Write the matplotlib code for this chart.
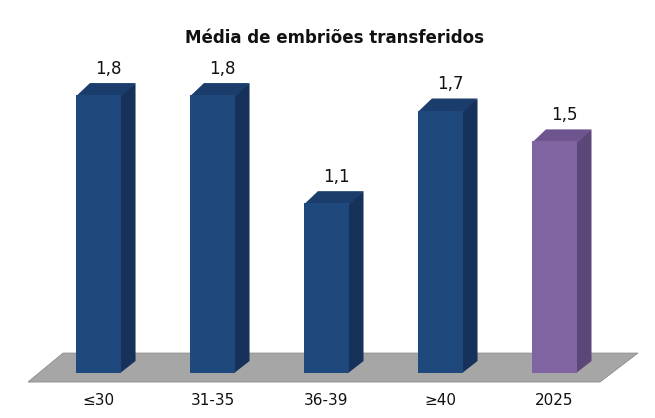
import matplotlib.pyplot as plt
from matplotlib.patches import Polygon

# data
categories = ['≤30', '31-35', '36-39', '≥40', '2025']
values = [1.8, 1.8, 1.1, 1.7, 1.5]
labels = ['1,8', '1,8', '1,1', '1,7', '1,5']
title = 'Média de embriões transferidos'

front_colors = ['#1F497D', '#1F497D', '#1F497D', '#1F497D', '#8064A2']
side_colors = ['#16325A', '#16325A', '#16325A', '#16325A', '#5C4878']
top_colors = ['#1A3D6C', '#1A3D6C', '#1A3D6C', '#1A3D6C', '#6E558F']

fig = plt.figure(figsize=(6.55, 4.18), dpi=100)
ax = fig.add_axes([0, 0, 1, 1])
ax.set_xlim(-0.864, 4.882)
ax.set_ylim(-0.291, 2.416)
ax.axis('off')

# depth offsets for the pseudo-3d look
dx, dy = 0.125, 0.078
width = 0.40

# floor
floor = Polygon([(-0.618, -0.058), (4.399, -0.058), (4.732, 0.1295), (-0.311, 0.1295)],
                closed=True, facecolor='#A6A6A6', edgecolor='#8C8C8C', lw=0.6, zorder=1)
ax.add_patch(floor)

for i, v in enumerate(values):
    x0 = i - width / 2
    x1 = i + width / 2
    # side starts a bit inside the front face so no gap shows
    side = Polygon([(x1 - 0.01, 0), (x1 + dx, dy), (x1 + dx, v + dy), (x1 - 0.01, v)],
                   closed=True, facecolor=side_colors[i], edgecolor='none', zorder=2)
    top = Polygon([(x0, v - 0.01), (x1, v - 0.01), (x1 + dx, v + dy), (x0 + dx, v + dy)],
                  closed=True, facecolor=top_colors[i], edgecolor='none', zorder=2)
    ax.add_patch(side)
    ax.add_patch(top)
    ax.bar(i, v, width=width, color=front_colors[i], lw=0, zorder=3)
    ax.text(i + 0.09, v + 0.17, labels[i], ha='center', va='center',
            fontsize=12, color='#111111', zorder=4)
    ax.text(i, -0.175, categories[i], ha='center', va='center',
            fontsize=11, color='#111111', zorder=4)

ax.text(2.07, 2.17, title, ha='center', va='center', fontsize=12,
        fontweight='bold', color='#111111')

fig.savefig('out.png', dpi=100)
